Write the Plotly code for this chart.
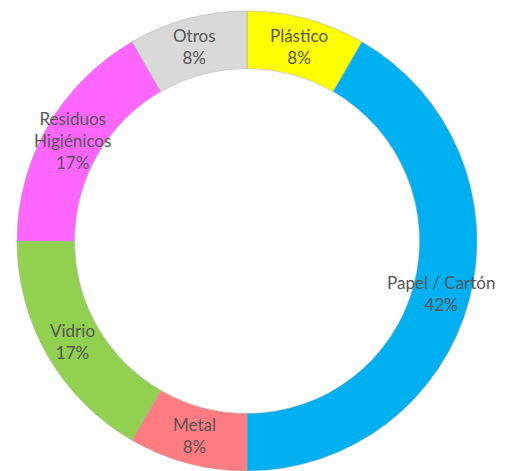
import math
import plotly.graph_objects as go

categories = ["Plástico", "Papel / Cartón", "Metal", "Vidrio", "Residuos<br>Higiénicos", "Otros"]
values = [1, 5, 1, 2, 2, 1]
colors = ["#FFFF00", "#00B0F0", "#FF7C80", "#92D050", "#FF66FF", "#D9D9D9"]

HOLE = 0.75

fig = go.Figure(go.Pie(
    labels=categories,
    values=values,
    sort=False,
    direction="clockwise",
    rotation=0,
    hole=HOLE,
    marker=dict(colors=colors, line=dict(color="#A6A6A6", width=0.5)),
    textinfo="none",
    hoverinfo="label+percent",
    showlegend=False,
))

# Labels placed at the middle of each ring segment (derived from the data)
total = sum(values)
cum = 0
R = 0.5 * (1 + HOLE) / 2
for lab, v in zip(categories, values):
    mid = (cum + v / 2) / total
    cum += v
    th = 2 * math.pi * mid
    fig.add_annotation(
        x=0.5 + R * math.sin(th), y=0.5 + R * math.cos(th),
        xref="paper", yref="paper",
        xanchor="center", yanchor="middle",
        text=f"{lab}<br>{round(100 * v / total)}%",
        showarrow=False,
        font=dict(family="Lato, Open Sans, sans-serif", size=17, color="#555555"),
        align="center",
    )

fig.update_layout(
    width=506, height=471,
    margin=dict(l=17, r=29, t=11, b=0),
    paper_bgcolor="white",
    plot_bgcolor="white",
)
fig.write_html(
    "out.html",
    config={"displayModeBar": False},
    post_script="document.body.style.margin='0';document.body.style.overflow='hidden';",
)
